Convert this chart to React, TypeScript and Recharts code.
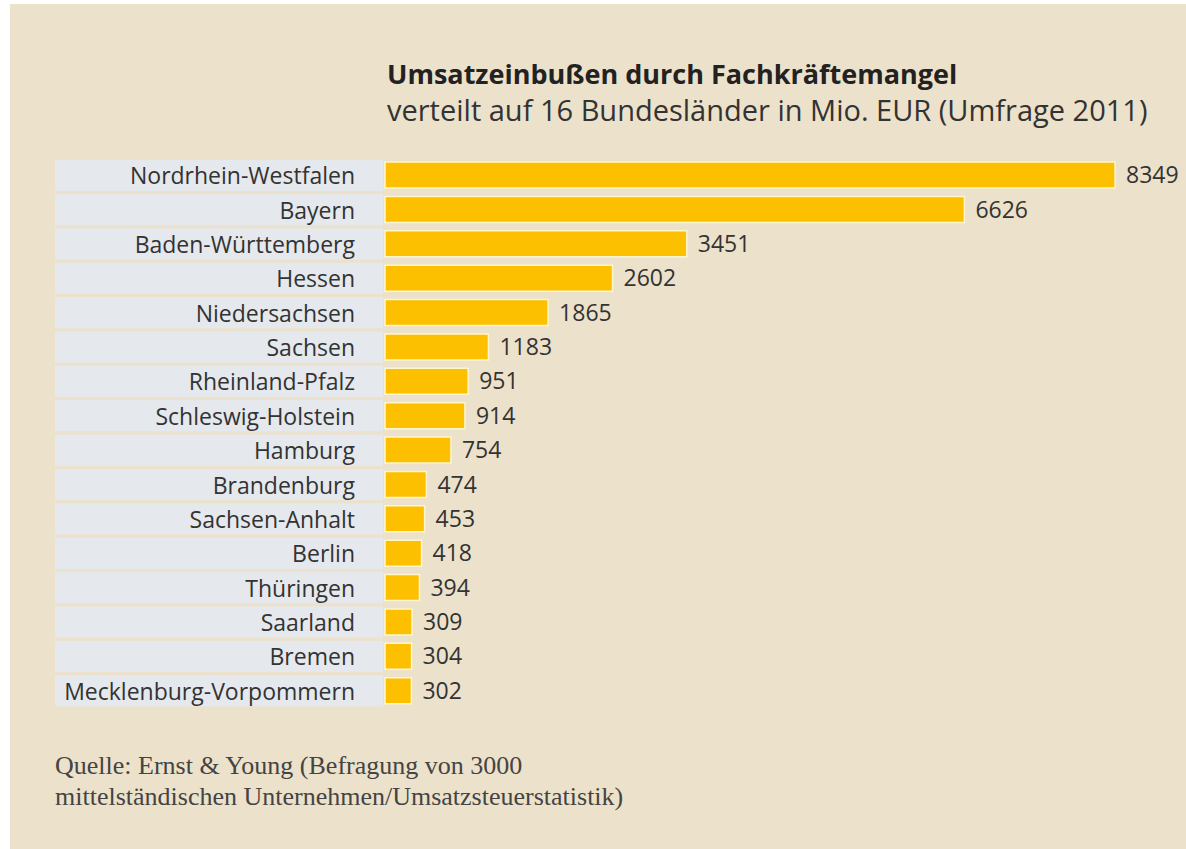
import React from "react";
import { BarChart, Bar, XAxis, YAxis, LabelList } from "recharts";

const states = [
  "Nordrhein-Westfalen",
  "Bayern",
  "Baden-Württemberg",
  "Hessen",
  "Niedersachsen",
  "Sachsen",
  "Rheinland-Pfalz",
  "Schleswig-Holstein",
  "Hamburg",
  "Brandenburg",
  "Sachsen-Anhalt",
  "Berlin",
  "Thüringen",
  "Saarland",
  "Bremen",
  "Mecklenburg-Vorpommern",
];
const losses = [8349, 6626, 3451, 2602, 1865, 1183, 951, 914, 754, 474, 453, 418, 394, 309, 304, 302];

const titleText = "Umsatzeinbußen durch Fachkräftemangel";
const subtitleText = "verteilt auf 16 Bundesländer in Mio. EUR (Umfrage 2011)";
const sourceLines = [
  "Quelle: Ernst & Young (Befragung von 3000",
  "mittelständischen Unternehmen/Umsatzsteuerstatistik)",
];

const data = states.map((s, i) => ({ state: s, value: losses[i] }));

const W = 1186;
const H = 849;
const M = { top: 158, right: 14, bottom: H - 708, left: 55 };
const AXIS_W = 330;
const ROW_H = (H - M.top - M.bottom) / states.length;
const FONT = "'Open Sans', Lato, sans-serif";

const LabelTick = (props: any) => {
  const { y, payload } = props;
  const plotLeft = M.left + AXIS_W;
  return (
    <g>
      <rect
        x={M.left}
        y={y - ROW_H / 2 + 1.5}
        width={AXIS_W - 2}
        height={ROW_H - 3}
        fill="#E5E8EC"
      />
      <text
        x={plotLeft - 30}
        y={y}
        textAnchor="end"
        dominantBaseline="central"
        fontFamily={FONT}
        fontSize={23}
        fill="#333"
      >
        {payload.value}
      </text>
    </g>
  );
};

export default function App() {
  return (
    <div style={{ position: "absolute", left: 0, top: 0, width: W, height: H, background: "#fff", overflow: "hidden" }}>
      <div style={{ position: "absolute", left: 10, top: 4, width: W - 10, height: H - 4, background: "#ECE1CA" }} />
      <div
        style={{
          position: "absolute",
          left: 387,
          top: 56,
          fontFamily: FONT,
          fontWeight: 700,
          fontSize: 27,
          color: "#222",
          whiteSpace: "nowrap",
          lineHeight: "36px",
        }}
      >
        {titleText}
      </div>
      <div
        style={{
          position: "absolute",
          left: 387,
          top: 92,
          fontFamily: FONT,
          fontSize: 29,
          color: "#333",
          whiteSpace: "nowrap",
          lineHeight: "36px",
        }}
      >
        {subtitleText}
      </div>
      <div style={{ position: "absolute", left: 0, top: 0 }}>
        <BarChart width={W} height={H} data={data} layout="vertical" margin={M} barCategoryGap={4}>
          <XAxis type="number" domain={[0, 9000]} hide />
          <YAxis
            type="category"
            dataKey="state"
            width={AXIS_W}
            axisLine={false}
            tickLine={false}
            tick={<LabelTick />}
            interval={0}
          />
          <Bar dataKey="value" fill="#FCC000" stroke="#FFF6CC" strokeWidth={1.5} isAnimationActive={false}>
            <LabelList
              dataKey="value"
              position="right"
              offset={11}
              fill="#333"
              fontSize={23}
              fontFamily={FONT}
            />
          </Bar>
        </BarChart>
      </div>
      <div
        style={{
          position: "absolute",
          left: 55,
          top: 750,
          fontFamily: "'Liberation Serif', 'DejaVu Serif', serif",
          fontSize: 26,
          lineHeight: "31px",
          color: "#444",
          whiteSpace: "nowrap",
        }}
      >
        {sourceLines.map((l) => (
          <div key={l}>{l}</div>
        ))}
      </div>
    </div>
  );
}
